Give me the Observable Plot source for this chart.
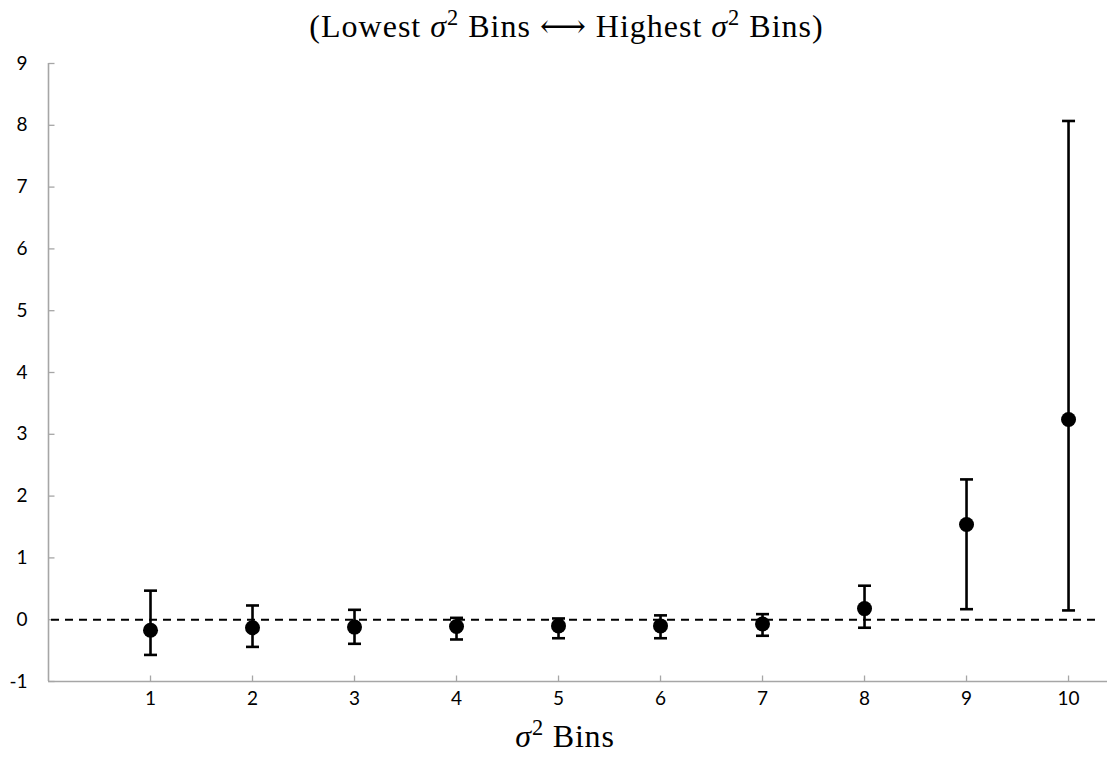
<!DOCTYPE html>
<html>
<head>
<meta charset="utf-8">
<script src="https://cdn.jsdelivr.net/npm/d3@7"></script>
<script src="https://cdn.jsdelivr.net/npm/@observablehq/plot@0.6"></script>
<style>
  html, body { margin: 0; padding: 0; background: #fff; }
  #wrap { width: 1109px; height: 761px; position: relative; overflow: hidden; }
  .serif { font-family: "Liberation Serif", "DejaVu Serif", serif; color: #000; }
  #title { height: 44px; box-sizing: border-box; padding-top: 10px; padding-left: 24px; text-align: center; font-size: 32px; line-height: 32px; white-space: nowrap; letter-spacing: 1px; }
  #xlabel { height: 49px; box-sizing: border-box; padding-top: 8px; padding-left: 21px; text-align: center; font-size: 32px; line-height: 32px; white-space: nowrap; letter-spacing: 0.8px; }
  sup { font-size: 0.7em; line-height: 0; vertical-align: 0; position: relative; top: -0.55em; }
  svg { display: block; }
</style>
</head>
<body>
<div id="wrap">
  <div id="title" class="serif">(Lowest <i>σ</i><sup>2</sup> Bins ⟷ Highest <i>σ</i><sup>2</sup> Bins)</div>
  <div id="chart"></div>
  <div id="xlabel" class="serif"><i>σ</i><sup>2</sup> Bins</div>
</div>
<script>
const bins  = [1, 2, 3, 4, 5, 6, 7, 8, 9, 10];
const means = [-0.17, -0.13, -0.12, -0.11, -0.10, -0.10, -0.07, 0.18, 1.54, 3.24];
const upper = [0.47, 0.23, 0.16, 0.03, 0.02, 0.07, 0.09, 0.55, 2.27, 8.07];
const lower = [-0.57, -0.44, -0.39, -0.32, -0.30, -0.30, -0.26, -0.13, 0.17, 0.15];
const yTicks = [-1, 0, 1, 2, 3, 4, 5, 6, 7, 8, 9];
const xTicks = [1, 2, 3, 4, 5, 6, 7, 8, 9, 10];
const xDomain = [0, 10.382];
const yDomain = [-1, 9];
const refValue = 0;
const refEnd = 10.3;

const data = bins.map((b, i) => ({bin: b, mean: means[i], hi: upper[i], lo: lower[i]}));

const capSymbol = { draw(ctx) { ctx.moveTo(-6.5, 0); ctx.lineTo(6.5, 0); } };
const yTickSymbol = { draw(ctx) { ctx.moveTo(0, 0); ctx.lineTo(6, 0); } };
const xTickSymbol = { draw(ctx) { ctx.moveTo(0, 0); ctx.lineTo(0, -6); } };

const axisColor = "#a6a6a6";
const tickFont = "Lato, 'Open Sans', sans-serif";

const chart = Plot.plot({
  width: 1109,
  height: 668,
  marginLeft: 48,
  marginRight: 2,
  marginTop: 19,
  marginBottom: 31,
  style: { fontFamily: tickFont, fontSize: "19px", color: "#000", background: "#fff" },
  x: { domain: xDomain },
  y: { domain: yDomain },
  marks: [
    Plot.ruleY([yDomain[0]], { x1: xDomain[0], x2: xDomain[1], stroke: axisColor, strokeWidth: 1.6 }),
    Plot.ruleX([xDomain[0]], { y1: yDomain[0], y2: yDomain[1], stroke: axisColor, strokeWidth: 1.6 }),
    Plot.dot(yTicks, { x: () => xDomain[0], y: d => d, symbol: yTickSymbol, stroke: axisColor, strokeWidth: 1.3, fill: "none" }),
    Plot.dot(xTicks, { x: d => d, y: () => yDomain[0], symbol: xTickSymbol, stroke: axisColor, strokeWidth: 1.3, fill: "none" }),
    Plot.axisY({ ticks: yTicks, tickSize: 0, tickPadding: 21, tickFormat: d => String(d), fontSize: 19, fill: "#000" }),
    Plot.axisX({ ticks: xTicks, tickSize: 0, tickPadding: 10, tickFormat: d => String(d), fontSize: 19, fill: "#000", label: null }),
    Plot.ruleY([refValue], { x1: xDomain[0], x2: refEnd, stroke: "#000", strokeWidth: 2, strokeDasharray: "8,6", strokeDashoffset: -3 }),
    Plot.ruleX(data, { x: "bin", y1: "lo", y2: "hi", stroke: "#000", strokeWidth: 2.6 }),
    Plot.dot(data, { x: "bin", y: "hi", symbol: capSymbol, stroke: "#000", strokeWidth: 2.6, fill: "none" }),
    Plot.dot(data, { x: "bin", y: "lo", symbol: capSymbol, stroke: "#000", strokeWidth: 2.6, fill: "none" }),
    Plot.dot(data, { x: "bin", y: "mean", r: 7.5, fill: "#000", stroke: "none" })
  ]
});
document.getElementById("chart").appendChild(chart);
</script>
</body>
</html>
